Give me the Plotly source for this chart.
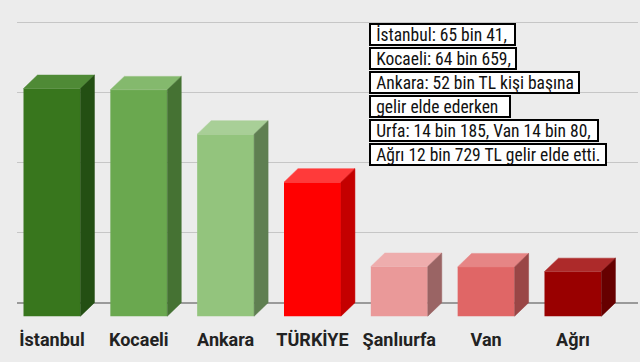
import plotly.graph_objects as go

categories = ["İstanbul", "Kocaeli", "Ankara", "TÜRKİYE", "Şanlıurfa", "Van", "Ağrı"]
income = [65041, 64659, 52000, 38300, 14185, 14080, 12729]
front_colors = ["#38761d", "#6aa84f", "#93c47d", "#ff0000", "#ea9999", "#e06666", "#990000"]
top_colors = ["#4f8a36", "#84b96d", "#a8cf97", "#ff3a3a", "#eeadad", "#e68585", "#ad2a2a"]
side_colors = ["#234f13", "#457233", "#5f7f51", "#c40000", "#9a6464", "#9a4646", "#660000"]
note_lines = [
    "İstanbul: 65 bin 41,",
    "Kocaeli: 64 bin 659,",
    "Ankara: 52 bin TL kişi başına",
    "gelir elde ederken",
    "Urfa: 14 bin 185, Van 14 bin 80,",
    "Ağrı 12 bin 729 TL gelir elde etti.",
]
note_widths = [147, 148, 211, 142, 230, 238]

BAR_W = 0.656
DX = 0.161
DY = 3850

W, H = 640, 362
ML, MR, MT, MB = 17, 2, 10, 42
PW, PH = W - ML - MR, H - MT - MB

fig = go.Figure()
for i, v in enumerate(income):
    fig.add_trace(go.Bar(x=[i], y=[v], base=[-DY], width=BAR_W,
                         marker=dict(color=front_colors[i], line=dict(width=0)),
                         hoverinfo="skip", showlegend=False))
    l, r = i - BAR_W / 2, i + BAR_W / 2
    fig.add_trace(go.Scatter(x=[l, r, r + DX, l + DX, l], y=[v - DY, v - DY, v, v, v - DY],
                             mode="lines", fill="toself", fillcolor=top_colors[i],
                             line=dict(width=0.5, color=top_colors[i]),
                             hoverinfo="skip", showlegend=False))
    fig.add_trace(go.Scatter(x=[r, r + DX, r + DX, r, r], y=[v - DY, v, 0, -DY, v - DY],
                             mode="lines", fill="toself", fillcolor=side_colors[i],
                             line=dict(width=0.5, color=side_colors[i]),
                             hoverinfo="skip", showlegend=False))

box_left_px = 369
box_top_px = 23
for k, (txt, bw) in enumerate(zip(note_lines, note_widths)):
    top_px = box_top_px + 24 * k
    fig.add_annotation(
        xref="paper", yref="paper",
        x=(box_left_px - ML) / PW, y=(H - MB - top_px) / PH,
        xanchor="left", yanchor="top",
        text="\u2009\u200a" + txt, showarrow=False, align="left", valign="middle",
        width=bw - 4, height=19,
        bgcolor="white", bordercolor="black", borderwidth=2, borderpad=0,
        font=dict(family="Liberation Sans Narrow, Roboto Condensed, Roboto", size=17.5, color="#111"),
    )

fig.update_layout(
    width=W, height=H,
    margin=dict(l=ML, r=MR, t=MT, b=MB),
    paper_bgcolor="#ececec", plot_bgcolor="#ececec",
    barmode="overlay",
    showlegend=False,
    xaxis=dict(range=[-0.403, 6.749], tickvals=list(range(len(categories))), ticktext=categories,
               showgrid=False, zeroline=False, showline=False, ticks="",
               ticklabelstandoff=7,
               tickfont=dict(family="Roboto", size=18, color="#222", weight="bold"),
               fixedrange=True),
    yaxis=dict(range=[-4943, 83629], tick0=0, dtick=20000, showticklabels=False,
               showgrid=True, gridcolor="#c6c6c6", gridwidth=1,
               zeroline=True, zerolinecolor="#9a9a9a", zerolinewidth=1.5,
               showline=False, ticks="", fixedrange=True),
)

fig.write_html("out.html", config={"displayModeBar": False})
